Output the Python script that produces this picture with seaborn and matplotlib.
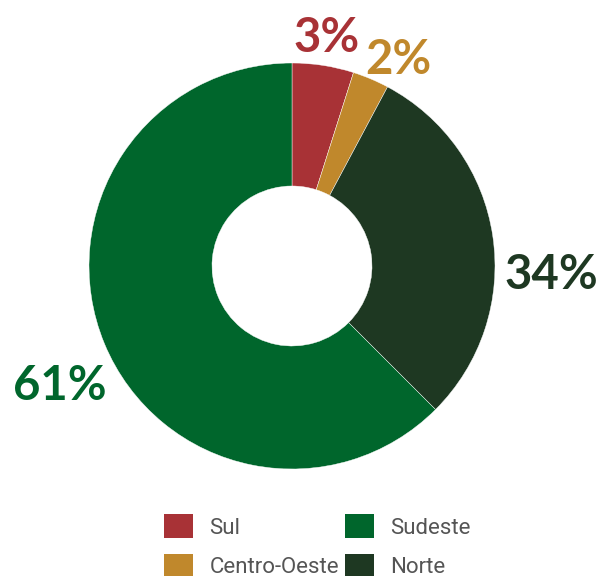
import matplotlib
matplotlib.use("Agg")
import matplotlib.pyplot as plt
import seaborn as sns
from matplotlib.patches import Patch

# slice order, clockwise from the top
regions = ['Sul', 'Centro-Oeste', 'Norte', 'Sudeste']
shares = [4.9, 2.9, 29.7, 62.5]
pct_labels = ['3%', '2%', '34%', '61%']
colors = ['#A83236', '#C0882C', '#1E3822', '#00662C']
legend_order = ['Sul', 'Centro-Oeste', 'Sudeste', 'Norte']

# label positions in data units (pie radius = 1)
label_pos = [(0.172, 1.123), (0.522, 1.015), (1.276, -0.044), (-1.143, -0.591)]

sns.set_theme(style='white')
plt.rcParams['font.family'] = ['Lato', 'DejaVu Sans']

fig = plt.figure(figsize=(6.10, 5.76), dpi=100)
ax = fig.add_axes([89 / 610, 107 / 576, 406 / 610, 406 / 576])

ax.pie(shares, colors=colors, startangle=90, counterclock=False, radius=1,
       wedgeprops=dict(width=1 - 80 / 203, edgecolor='white', linewidth=0.3))
ax.set_xlim(-1, 1)
ax.set_ylim(-1, 1)
ax.set_aspect('equal')
ax.axis('off')

for txt, (x, y), c in zip(pct_labels, label_pos, colors):
    ax.text(x, y, txt, color=c, fontsize=34, fontweight='bold',
            ha='center', va='center', clip_on=False)

cmap = dict(zip(regions, colors))
handles = [Patch(facecolor=cmap[r], edgecolor='none') for r in legend_order]
fig.legend(handles, legend_order, loc='upper left', ncol=2,
           bbox_to_anchor=(164 / 610, 1 - 514 / 576), frameon=False,
           borderaxespad=0, borderpad=0, handlelength=1.3, handleheight=1.3,
           handletextpad=0.75, columnspacing=0.25, labelspacing=0.68,
           prop={'family': 'Roboto', 'size': 16}, labelcolor='#555555')

fig.savefig('out.png', dpi=100)
